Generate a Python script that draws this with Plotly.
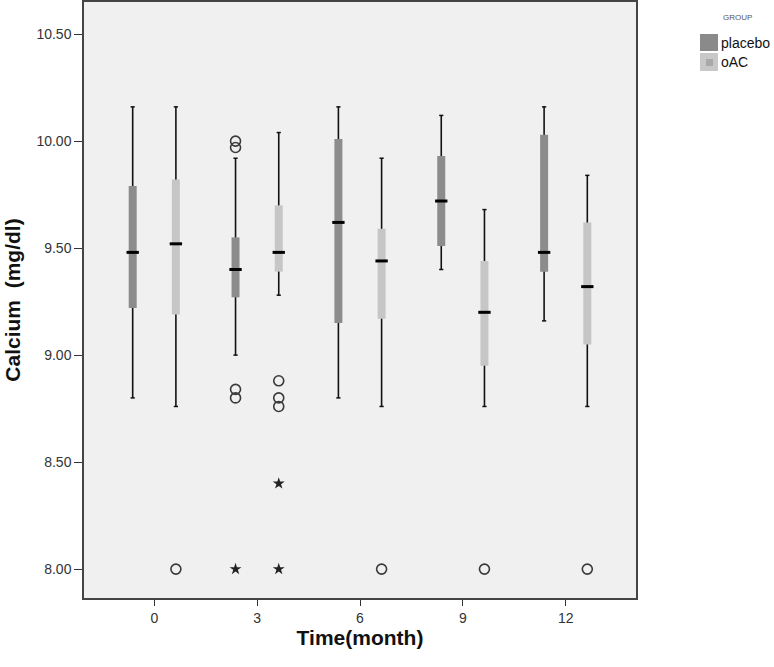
import plotly.graph_objects as go

# months on the x axis
months = [0, 3, 6, 9, 12]

# placebo box statistics (mg/dl)
placebo_lower = [8.80, 9.00, 8.80, 9.40, 9.16]
placebo_q1 = [9.22, 9.27, 9.15, 9.51, 9.39]
placebo_median = [9.48, 9.40, 9.62, 9.72, 9.48]
placebo_q3 = [9.79, 9.55, 10.01, 9.93, 10.03]
placebo_upper = [10.16, 9.92, 10.16, 10.12, 10.16]

# oAC box statistics (mg/dl)
oac_lower = [8.76, 9.28, 8.76, 8.76, 8.76]
oac_q1 = [9.19, 9.39, 9.17, 8.95, 9.05]
oac_median = [9.52, 9.48, 9.44, 9.20, 9.32]
oac_q3 = [9.82, 9.70, 9.59, 9.44, 9.62]
oac_upper = [10.16, 10.04, 9.92, 9.68, 9.84]

# outliers (circles) and extremes (stars)
placebo_out_month = [3, 3, 3, 3]
placebo_out_value = [10.00, 9.97, 8.84, 8.80]
placebo_ext_month = [3]
placebo_ext_value = [8.00]
oac_out_month = [0, 3, 3, 3, 6, 9, 12]
oac_out_value = [8.00, 8.88, 8.80, 8.76, 8.00, 8.00, 8.00]
oac_ext_month = [3, 3]
oac_ext_value = [8.40, 8.00]

y_ticks = [8.0, 8.5, 9.0, 9.5, 10.0, 10.5]

FONT = "Liberation Sans, Arial, sans-serif"
OFFSET = 0.63      # half distance between the two boxes of a month
MED_HALF = 0.18    # half width of the median bar

W, H = 774, 667
ML, MR, MT, MB = 84, 138, 2, 69

groups = [
    ("placebo", -OFFSET, "#8c8c8c", placebo_lower, placebo_q1, placebo_median, placebo_q3, placebo_upper,
     placebo_out_month, placebo_out_value, placebo_ext_month, placebo_ext_value),
    ("oAC", OFFSET, "#c6c6c6", oac_lower, oac_q1, oac_median, oac_q3, oac_upper,
     oac_out_month, oac_out_value, oac_ext_month, oac_ext_value),
]

fig = go.Figure()

for name, off, color, lo, q1, med, q3, hi, om, ov, em, ev in groups:
    # whiskers
    wx, wy = [], []
    for m, a, b in zip(months, lo, hi):
        wx += [m + off, m + off, None]
        wy += [a, b, None]
    fig.add_trace(go.Scatter(x=wx, y=wy, mode="lines", line=dict(color="#111111", width=1.6),
                             name=name, hoverinfo="skip"))
    # whisker caps
    fig.add_trace(go.Scatter(x=[m + off for m in months] * 2, y=lo + hi, mode="markers",
                             marker=dict(symbol="line-ew", size=3, line=dict(color="#111111", width=1.5)),
                             hoverinfo="skip"))
    # boxes as thick bars
    bx, by = [], []
    for m, a, b in zip(months, q1, q3):
        bx += [m + off, m + off, None]
        by += [a, b, None]
    fig.add_trace(go.Scatter(x=bx, y=by, mode="lines", line=dict(color=color, width=8),
                             hoverinfo="skip"))
    # medians
    mx, my = [], []
    for m, v in zip(months, med):
        mx += [m + off - MED_HALF, m + off + MED_HALF, None]
        my += [v, v, None]
    fig.add_trace(go.Scatter(x=mx, y=my, mode="lines", line=dict(color="#000000", width=3),
                             hoverinfo="skip"))
    # outliers
    fig.add_trace(go.Scatter(x=[m + off for m in om], y=ov, mode="markers",
                             marker=dict(symbol="circle-open", size=10, color="#3a3a3a",
                                         line=dict(width=1.6)),
                             hoverinfo="skip"))
    fig.add_trace(go.Scatter(x=[m + off for m in em], y=ev, mode="markers",
                             marker=dict(symbol="star", size=9, color="#222222"),
                             hoverinfo="skip"))

# hand-made legend in the SPSS style, placed in page pixels
plot_w = W - ML - MR
plot_h = H - MT - MB
def px_x(x):
    return (x - ML) / plot_w
def px_y(y):
    return (H - MB - y) / plot_h

shapes = [
    dict(x0=700, x1=718, y0=51, y1=34, fillcolor="#8a8a8a"),
    dict(x0=700, x1=718, y0=71, y1=53, fillcolor="#c8c8c8"),
    dict(x0=706, x1=713, y0=66, y1=59, fillcolor="#a9a9a9"),
]
for s in shapes:
    s.update(type="rect", xref="paper", yref="paper", line=dict(width=0),
             x0=px_x(s["x0"]), x1=px_x(s["x1"]), y0=px_y(s["y0"]), y1=px_y(s["y1"]))

annotations = [
    dict(text="GROUP", x=737, y=18, xanchor="center", font=dict(size=8, color="#555555")),
    dict(text="placebo", x=719, y=43, xanchor="left", font=dict(size=14, color="#111111")),
    dict(text="oAC", x=719, y=62, xanchor="left", font=dict(size=14, color="#111111")),
]
for a in annotations:
    a.update(xref="paper", yref="paper", showarrow=False, yanchor="middle",
             x=px_x(a["x"]), y=px_y(a["y"]))

fig.update_layout(
    width=W, height=H,
    margin=dict(l=ML, r=MR, t=MT, b=MB),
    paper_bgcolor="white",
    plot_bgcolor="#f0f0f0",
    showlegend=False,
    font=dict(family=FONT, size=12, color="#222222"),
    xaxis=dict(
        range=[-2.05, 14.05], tickvals=months, ticktext=[str(m) for m in months],
        showgrid=False, zeroline=False, ticks="outside", ticklen=6, tickcolor="#333333",
        showline=True, linecolor="#444444", linewidth=1.5, mirror=True, automargin=False,
        tickfont=dict(size=14, color="#333333"),
        title=dict(text="<b>Time(month)</b>", font=dict(size=21, color="#111111"), standoff=2),
    ),
    yaxis=dict(
        range=[7.865, 10.65], tickvals=y_ticks, ticktext=[f"{v:.2f}" for v in y_ticks],
        showgrid=False, zeroline=False, ticks="outside", ticklen=8, tickcolor="#333333",
        showline=True, linecolor="#444444", linewidth=1.5, mirror=True, automargin=False,
        tickfont=dict(size=14, color="#333333"),
        title=dict(text="<b>Calcium  (mg/dl)</b>", font=dict(size=21, color="#111111"), standoff=10),
    ),
    shapes=shapes,
    annotations=annotations,
)

fig.write_html("out.html", config={"displayModeBar": False},
               post_script="document.body.style.margin='0px';")
